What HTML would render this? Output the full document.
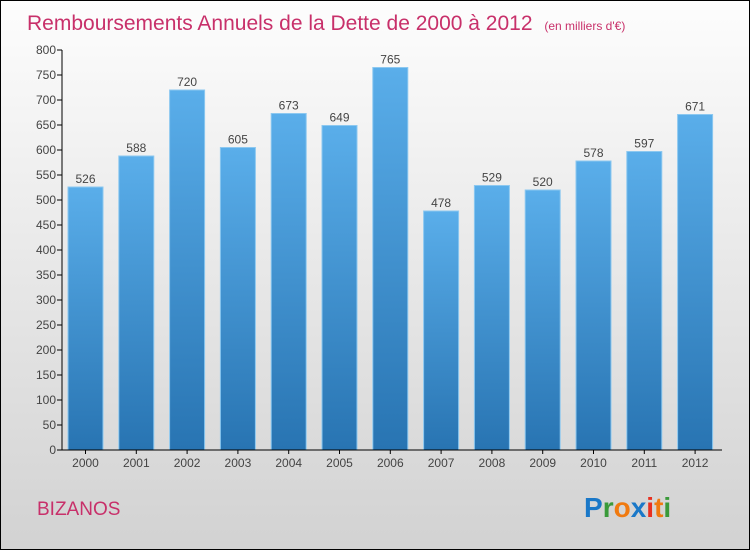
<!DOCTYPE html>
<html><head><meta charset="utf-8"><style>
body{margin:0}
#c{width:748px;height:548px;border:1px solid #000;background:linear-gradient(#fdfdfd,#f0f0f0 30%,#d2d2d2);position:relative;font-family:"Liberation Sans",sans-serif;overflow:hidden}
</style></head><body>
<div id="c">
<svg width="748" height="548">
<defs><linearGradient id="g" x1="0" y1="0" x2="0" y2="1"><stop offset="0" stop-color="#5aaeea"/><stop offset="1" stop-color="#2874b2"/></linearGradient></defs>
<text x="26" y="29" font-size="21" fill="#c8306a">Remboursements Annuels de la Dette de 2000 à 2012 <tspan font-size="12" dx="6">(en milliers d'€)</tspan></text>
<text x="36" y="514" font-size="19" fill="#c8306a">BIZANOS</text>
<text x="583" y="516" font-size="28" font-weight="bold"><tspan fill="#1a78c8">P</tspan><tspan fill="#3a9a3a">r</tspan><tspan fill="#f07a10">o</tspan><tspan fill="#1a78c8">x</tspan><tspan fill="#e83020">i</tspan><tspan fill="#f07a10">t</tspan><tspan fill="#3a9a3a">i</tspan></text>
<g id="plot"></g>
</svg></div>
<script>
const years=["2000","2001","2002","2003","2004","2005","2006","2007","2008","2009","2010","2011","2012"];
const values=[526,588,720,605,673,649,765,478,529,520,578,597,671];
const yTicks=[0,50,100,150,200,250,300,350,400,450,500,550,600,650,700,750,800];
const ns="http://www.w3.org/2000/svg";
const g=document.getElementById('plot');
const y=v=>449-v*0.5, x=i=>84.5+i*50.8;
function mk(t,a,p){const e=document.createElementNS(ns,t);for(const k in a)e.setAttribute(k,a[k]);(p||g).appendChild(e);return e;}
yTicks.forEach(t=>{
 const l=mk('line',{x1:56,x2:61,y1:y(t),y2:y(t),stroke:'#000'});
 
 
 const s=mk('text',{x:55,y:y(t)+4,'text-anchor':'end','font-size':12,fill:'#444'});s.textContent=t;
 
 
});
values.forEach((v,i)=>{
 const r=mk('rect',{x:x(i)-17.5,y:y(v),width:35,height:v*0.5,fill:'url(#g)',stroke:'#8cc8f0','stroke-width':1});
 
 
 const s=mk('text',{x:x(i),y:y(v)-4,'text-anchor':'middle','font-size':12,fill:'#444'});s.textContent=v;
 
 
 const t=mk('text',{x:x(i),y:466,'text-anchor':'middle','font-size':12,fill:'#444'});t.textContent=years[i];
 
 
 const k=mk('line',{x1:x(i),x2:x(i),y1:449,y2:453,stroke:'#000'});
 
 
});
const ya=mk('line',{x1:61,x2:61,y1:49,y2:449,stroke:'#000'});


const xa=mk('line',{x1:61,x2:721,y1:449,y2:449,stroke:'#000'});


</script>
</body></html>
